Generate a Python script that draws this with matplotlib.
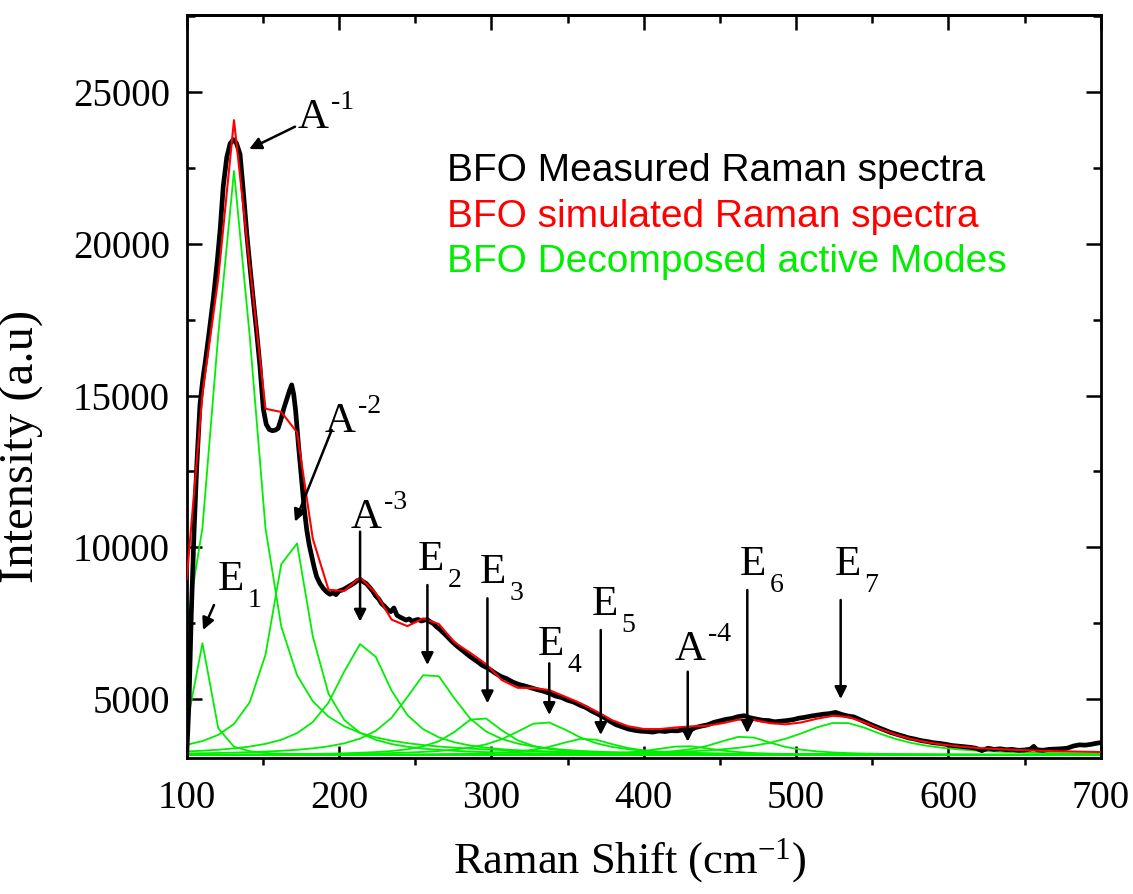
import numpy as np
import matplotlib
matplotlib.use("Agg")
import matplotlib.pyplot as plt
from matplotlib.ticker import MultipleLocator

# ---- measured BFO Raman spectrum (cm^-1, a.u.) ----
measured_shift = [
    100, 101.5, 103, 104.8, 106.6, 108.7, 110.5, 112.3, 114.5, 117.5, 120, 122, 124,
    126.3, 128.5, 130.6, 132.6, 135, 137.2, 139.4, 141.5, 143.7, 146, 148.1, 150.3,
    152.2, 154.2, 156.2, 158.2, 160, 161.8, 163.6, 165.6, 167.4, 168.9, 170.2, 171.5,
    173.3, 175.5, 177.1, 178.8, 180.4, 182.1, 183.7, 185.3, 187.5, 189.7, 192, 194,
    196, 198, 200, 202, 204, 206, 208, 210, 212, 214, 216, 218, 220, 222, 224, 226,
    228, 230, 232, 234, 236, 238, 240, 242, 244, 246, 248, 250, 252, 254, 256, 258,
    260, 262, 264, 266, 270, 274, 278, 282, 286, 290, 294, 298, 302, 306, 310, 314,
    318, 322, 326, 330, 334, 338, 342, 346, 350, 354, 358, 362, 366, 370, 374, 378,
    382, 386, 390, 394, 398, 402, 406, 410, 414, 418, 422, 426, 430, 434, 438, 442,
    446, 450, 454, 458, 462, 466, 470, 474, 478, 482, 486, 490, 494, 498, 502, 506,
    510, 514, 518, 522, 526, 530, 534, 538, 542, 546, 550, 554, 558, 562, 566, 570,
    574, 578, 582, 586, 590, 594, 598, 602, 606, 610, 614, 618, 622, 626, 630, 634,
    638, 642, 646, 650, 654, 656, 658, 662, 666, 670, 674, 678, 682, 686, 690, 694,
    698, 700,
]
measured_intensity = [
    3150, 4900, 7800, 10500, 12700, 14700, 15500, 16150, 17000, 18200, 19400, 20500, 21900,
    22850, 23300, 23430, 23320, 22950, 21700, 20350, 19250, 18150, 17050, 15950, 14550,
    14050, 13880, 13840, 13860, 13920, 14200, 14550, 14870, 15150, 15350, 15050, 14500,
    13400, 12200, 11300, 10570, 10080, 9690, 9330, 9030, 8800, 8640, 8520, 8450,
    8500, 8440, 8560, 8590, 8640, 8700, 8760, 8820, 8900, 8930, 8860, 8800, 8680, 8560, 8400, 8300,
    8140, 8050, 7940, 7880, 8000, 7760, 7700, 7650, 7600, 7640, 7560, 7600, 7620, 7570, 7600, 7610,
    7540, 7480, 7380, 7300, 7110, 6900, 6720, 6560, 6400, 6260, 6110, 6010, 5870, 5750, 5670, 5560,
    5480, 5430, 5370, 5310, 5260, 5190, 5100, 5050, 4960, 4900, 4800, 4720, 4600, 4500, 4390, 4260,
    4150, 4080, 4010, 3970, 3940, 3930, 3910, 3950, 3930, 3960, 3950, 3990, 3960, 4060, 4110, 4150,
    4230, 4280, 4330, 4360, 4420, 4450, 4380, 4340, 4300, 4290, 4250, 4270, 4290, 4320, 4370, 4400,
    4440, 4470, 4500, 4520, 4560, 4490, 4440, 4410, 4320, 4230, 4140, 4060, 3980, 3900, 3840, 3780,
    3720, 3680, 3630, 3600, 3560, 3540, 3510, 3470, 3450, 3430, 3410, 3380, 3300, 3380, 3340, 3360,
    3330, 3340, 3310, 3320, 3350, 3440, 3330, 3310, 3340, 3350, 3360, 3380, 3450, 3490, 3480, 3510,
    3550, 3560,
]

# ---- fitted Raman-active modes (Lorentzian profiles) ----
mode_names = ["E1", "A1", "A2", "A3", "E2", "E3", "E4", "E5", "A4", "E6", "E7"]
mode_centers = [110, 131, 168.5, 216, 260, 292, 334, 362, 427, 466, 529]
mode_heights = [3700, 19250, 7450, 3700, 2750, 1270, 1100, 550, 300, 620, 1080]
mode_hwhm = [6, 16.5, 15, 21.5, 23, 20, 26, 24, 25, 24, 36]
fit_baseline = 3150
fit_shift = np.linspace(100, 700, 59)

# ---- mode labels: (letter, script, superscript?, text anchor, arrow tail, arrow head) ----
mode_labels = [
    ("A", "-1", True, (173.1, 23814), (171.1, 23857), (141.0, 23120)),
    ("A", "-2", True, (190.8, 13798), (195.2, 13864), (171.1, 10842)),
    ("A", "-3", True, (207.3, 10634), (213.8, 10513), (213.8, 7547)),
    ("E", "1", False, (120.6, 8592), (117.9, 8097), (110.7, 7273)),
    ("E", "2", False, (251.9, 9251), (258.0, 8756), (258.0, 6120)),
    ("E", "3", False, (292.6, 8822), (297.4, 8318), (297.4, 4858)),
    ("E", "4", False, (330.6, 6450), (338.0, 6176), (338.0, 4473)),
    ("E", "5", False, (366.1, 7768), (371.8, 7273), (371.8, 3814)),
    ("A", "-4", True, (420.6, 6285), (428.9, 5900), (428.9, 3593)),
    ("E", "6", False, (463.3, 9086), (468.0, 8592), (468.0, 3880)),
    ("E", "7", False, (525.6, 9086), (529.3, 8262), (529.3, 5000)),
]

legend_lines = [
    ("BFO Measured Raman spectra", "black"),
    ("BFO simulated Raman spectra", "#ff0000"),
    ("BFO Decomposed active Modes", "#00ee00"),
]


def lorentzian(x, center, height, hwhm):
    return height / (1.0 + ((x - center) / hwhm) ** 2)


plt.rcParams["font.family"] = ["Liberation Serif", "DejaVu Serif"]
plt.rcParams["mathtext.fontset"] = "custom"
plt.rcParams["mathtext.rm"] = "Liberation Serif"
plt.rcParams["mathtext.it"] = "Liberation Serif:italic"

fig = plt.figure(figsize=(11.33, 8.94), dpi=100)
ax = fig.add_axes([0.1648, 0.1521, 0.8067, 0.8308])

components = [fit_baseline + lorentzian(fit_shift, c, h, w)
              for c, h, w in zip(mode_centers, mode_heights, mode_hwhm)]
simulated = fit_baseline + sum(lorentzian(fit_shift, c, h, w)
                               for c, h, w in zip(mode_centers, mode_heights, mode_hwhm))

for comp in components:
    ax.plot(fit_shift, comp, color="#00ee00", lw=1.3, zorder=2)
ax.plot(measured_shift, measured_intensity, color="black", lw=3.4,
        solid_joinstyle="round", zorder=3)
ax.plot(fit_shift, simulated, color="#ff0000", lw=1.5, zorder=4)

ax.set_xlim(100, 700)
ax.set_ylim(3056, 27527)

ax.xaxis.set_major_locator(MultipleLocator(100))
ax.xaxis.set_minor_locator(MultipleLocator(50))
ax.yaxis.set_major_locator(MultipleLocator(5000))
ax.yaxis.set_minor_locator(MultipleLocator(2500))

for s in ax.spines.values():
    s.set_linewidth(2.0)

ax.tick_params(axis="x", which="major", direction="in", length=9, width=1.8,
               labelsize=28, pad=16, top=False)
ax.tick_params(axis="x", which="minor", direction="out", length=5, width=1.8, top=False)
ax.tick_params(axis="y", which="major", direction="in", length=11, width=1.8,
               labelsize=28, pad=12, right=True)
ax.tick_params(axis="y", which="minor", direction="in", length=6, width=1.8, right=True)

top = ax.secondary_xaxis("top")
top.xaxis.set_major_locator(MultipleLocator(100))
top.xaxis.set_minor_locator(MultipleLocator(50))
top.tick_params(which="major", direction="in", length=11, width=1.8, labelsize=0,
                labeltop=False)
top.tick_params(which="minor", direction="in", length=6, width=1.8)
top.spines["top"].set_linewidth(2.0)

ax.set_xlabel(r"Raman Shift (cm$^{\mathregular{-1}}$)", fontsize=32)
ax.xaxis.set_label_coords(0.485, -0.105)
ax.set_ylabel("Intensity (a.u)", fontsize=35)
ax.yaxis.set_label_coords(-0.156, 0.42)

for letter, script, sup, anchor, tail, head in mode_labels:
    ax.text(anchor[0], anchor[1], letter, fontsize=31, ha="left", va="baseline", zorder=6)
    dx = 24 if letter == "A" else 21
    dy = 14 if sup else -12
    ax.annotate(script, xy=anchor, xytext=(dx, dy), textcoords="offset points",
                fontsize=20, ha="left", va="baseline", zorder=6)
    ax.annotate("", xy=head, xytext=tail,
                arrowprops=dict(arrowstyle="-|>", color="black", lw=1.8,
                                mutation_scale=18, shrinkA=0, shrinkB=0),
                zorder=6)

for i, (txt, col) in enumerate(legend_lines):
    ax.text(0.2848, 0.790 - i * 0.061, txt, color=col, transform=ax.transAxes,
            fontsize=28, family=["Liberation Sans", "DejaVu Sans"],
            ha="left", va="center", zorder=6)

fig.savefig("out.png", dpi=100)
